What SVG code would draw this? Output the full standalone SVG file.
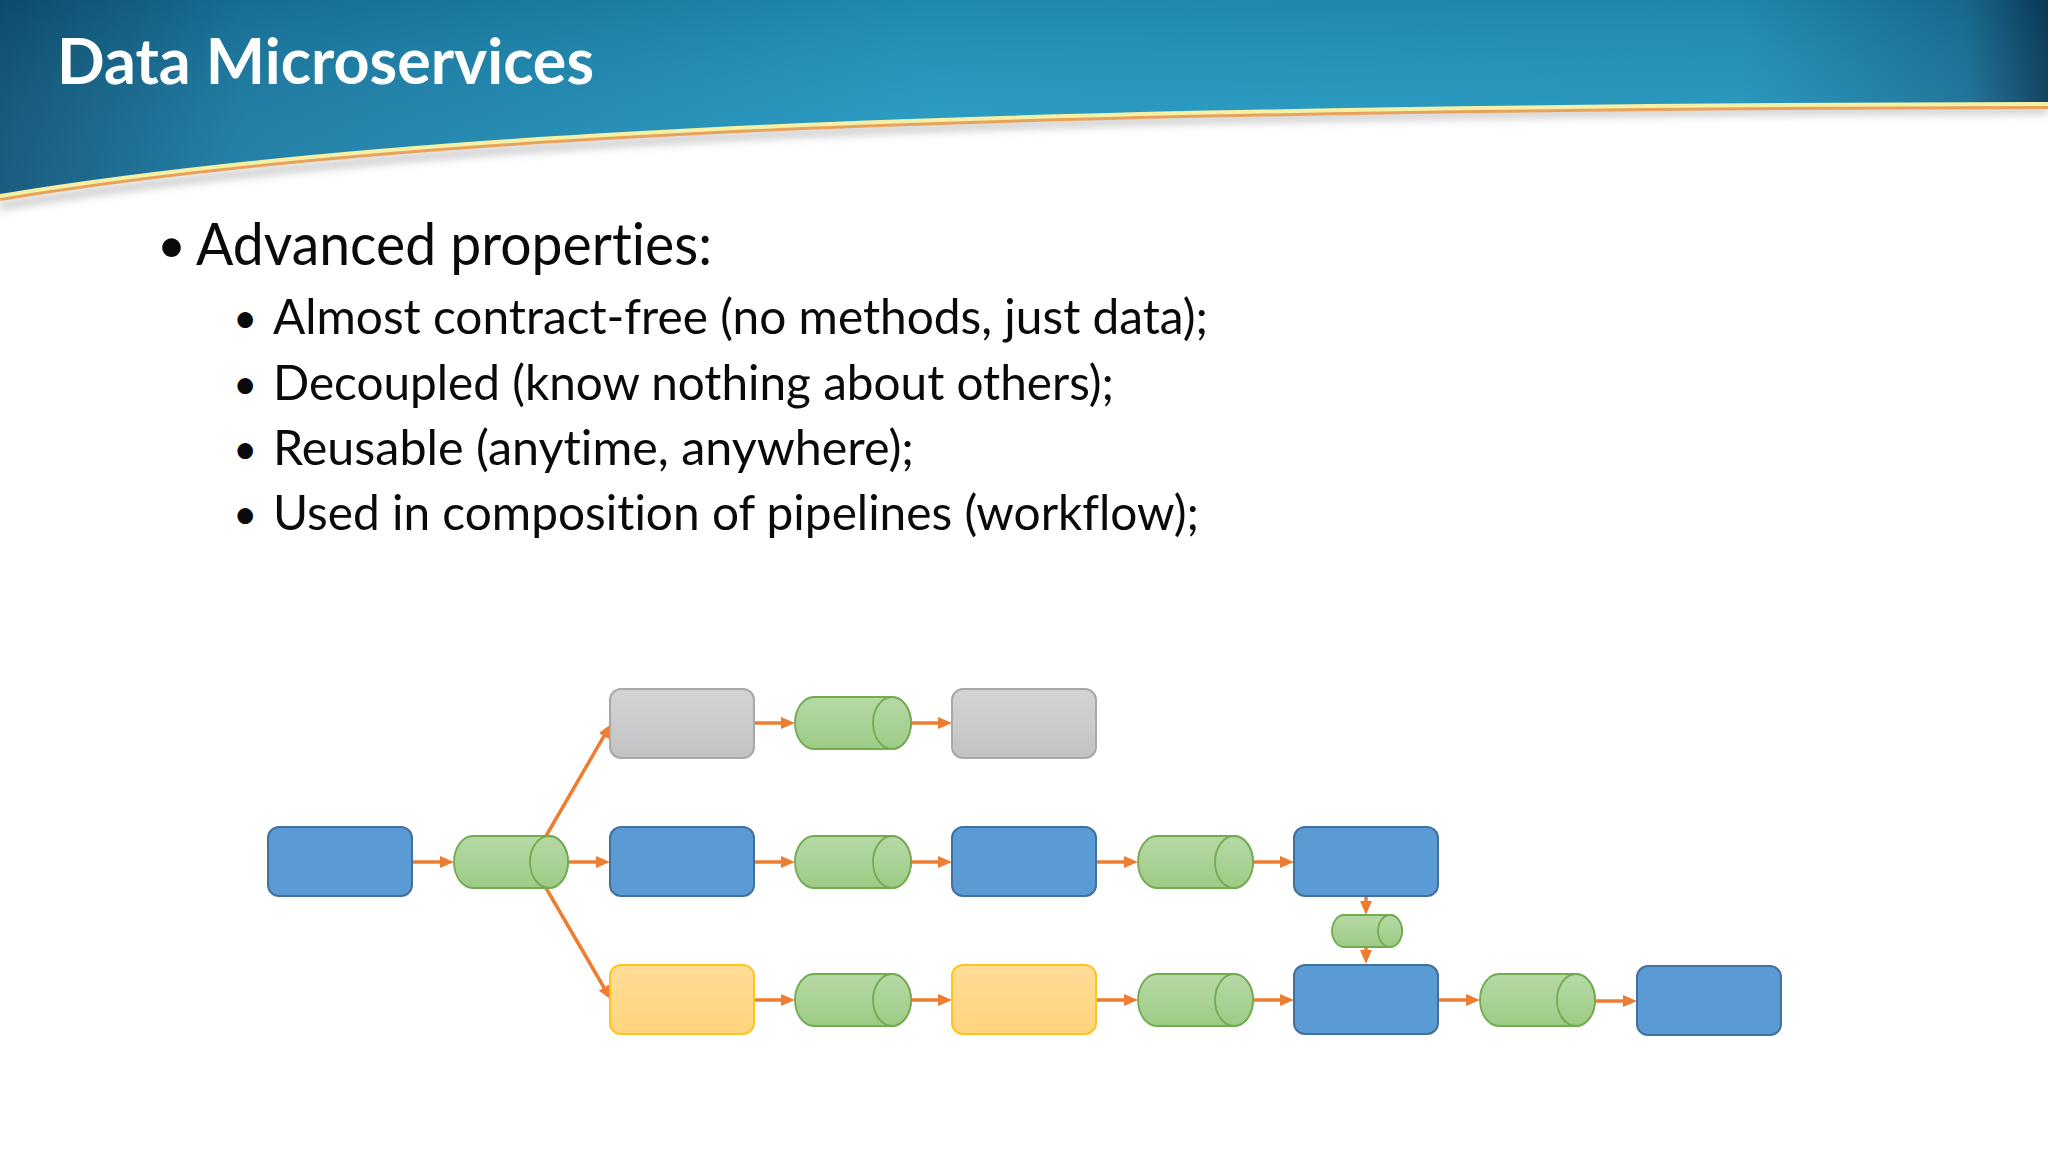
<svg xmlns="http://www.w3.org/2000/svg" width="2048" height="1152" viewBox="0 0 2048 1152">
<defs>
<linearGradient id="hdr" x1="0" y1="0" x2="1" y2="0">
<stop offset="0" stop-color="#0d5479"/>
<stop offset="0.12" stop-color="#1a7ca6"/>
<stop offset="0.45" stop-color="#229cc6"/>
<stop offset="0.85" stop-color="#2299c3"/>
<stop offset="0.96" stop-color="#1a759d"/>
<stop offset="1" stop-color="#0b3f60"/>
</linearGradient>
<linearGradient id="hdrv" x1="0" y1="0" x2="0" y2="1">
<stop offset="0" stop-color="#000" stop-opacity="0.12"/>
<stop offset="1" stop-color="#fff" stop-opacity="0.05"/>
</linearGradient>
<linearGradient id="grn" x1="0" y1="0" x2="0" y2="1">
<stop offset="0" stop-color="#b6d9a5"/>
<stop offset="1" stop-color="#9dcb86"/>
</linearGradient>
<linearGradient id="gry" x1="0" y1="0" x2="0" y2="1">
<stop offset="0" stop-color="#d4d4d6"/>
<stop offset="1" stop-color="#c2c2c4"/>
</linearGradient>
<linearGradient id="ylw" x1="0" y1="0" x2="0" y2="1">
<stop offset="0" stop-color="#ffdd98"/>
<stop offset="1" stop-color="#ffd47c"/>
</linearGradient>
<filter id="blur" x="-5%" y="-50%" width="110%" height="200%">
<feGaussianBlur stdDeviation="4"/>
</filter>
<marker id="ah" viewBox="0 0 14 12" refX="4" refY="6" markerWidth="14" markerHeight="12" markerUnits="userSpaceOnUse" orient="auto">
<path d="M0,0 L14,6 L0,12 Z" fill="#ed7d31"/>
</marker>
</defs>
<style>
.blue{fill:#5b9bd5;stroke:#41719c;stroke-width:2}
.gray{fill:url(#gry);stroke:#a8a8aa;stroke-width:2}
.yel{fill:url(#ylw);stroke:#ffc41f;stroke-width:2}
.cyl{fill:url(#grn);stroke:#72ab50;stroke-width:1.8}
.con{stroke:#ed7d31;stroke-width:3.5;fill:none;marker-end:url(#ah)}
text{font-variant-ligatures:none;font-feature-settings:"liga" 0}
.title{font-family:Lato,"Open Sans","Liberation Sans",sans-serif;font-weight:bold;font-size:64px;fill:#fff}
.b1{font-family:Lato,"Open Sans","Liberation Sans",sans-serif;font-size:58px;fill:#0a0a0a}
.b2{font-family:Lato,"Open Sans","Liberation Sans",sans-serif;font-size:49px;fill:#0a0a0a}
.dot{font-family:Lato,"Open Sans","Liberation Sans",sans-serif;fill:#0a0a0a}
</style>
<rect width="2048" height="1152" fill="#ffffff"/>
<g id="header">
<path d="M0,206 C400,140 1000,112 2048,110" fill="none" stroke="#888" stroke-width="8" stroke-opacity="0.45" filter="url(#blur)"/>
<path d="M0,0 H2048 V104 C1000,106 400,130 0,196 Z" fill="url(#hdr)"/>
<path d="M0,0 H2048 V104 C1000,106 400,130 0,196 Z" fill="url(#hdrv)"/>
<path d="M0,198 C400,132 1000,108 2048,106" fill="none" stroke="#e9a25c" stroke-width="6"/>
<path d="M0,196 C400,130 1000,106 2048,104" fill="none" stroke="#f4f0a6" stroke-width="4"/>
<text class="title" x="57" y="84" textLength="537" lengthAdjust="spacingAndGlyphs">Data Microservices</text>
</g>
<g id="bullets">
<text class="dot" x="157" y="263" font-size="50">•</text>
<text class="b1" x="196" y="265" textLength="516" lengthAdjust="spacingAndGlyphs">Advanced properties:</text>
<text class="dot" x="233" y="333" font-size="42">•</text>
<text class="b2" x="273" y="334" textLength="935" lengthAdjust="spacingAndGlyphs">Almost contract-free (no methods, just data);</text>
<text class="dot" x="233" y="399" font-size="42">•</text>
<text class="b2" x="273" y="400" textLength="841" lengthAdjust="spacingAndGlyphs">Decoupled (know nothing about others);</text>
<text class="dot" x="233" y="464" font-size="42">•</text>
<text class="b2" x="273" y="465" textLength="641" lengthAdjust="spacingAndGlyphs">Reusable (anytime, anywhere);</text>
<text class="dot" x="233" y="529" font-size="42">•</text>
<text class="b2" x="273" y="530" textLength="926" lengthAdjust="spacingAndGlyphs">Used in composition of pipelines (workflow);</text>
</g>
<g id="connectors">
<path class="con" d="M412,862 H444"/>
<path class="con" d="M568,862 H600"/>
<path class="con" d="M546,836 L606,732.6"/>
<path class="con" d="M546,888 L606,991"/>
<path class="con" d="M754,723 H785"/>
<path class="con" d="M911,723 H942"/>
<path class="con" d="M754,862 H785"/>
<path class="con" d="M911,862 H942"/>
<path class="con" d="M1096,862 H1128"/>
<path class="con" d="M1253,862 H1284"/>
<path class="con" d="M1366,896 V905"/>
<path class="con" d="M1366,947 V954"/>
<path class="con" d="M754,1000 H785"/>
<path class="con" d="M911,1000 H942"/>
<path class="con" d="M1096,1000 H1128"/>
<path class="con" d="M1253,1000 H1284"/>
<path class="con" d="M1439,1000 H1470"/>
<path class="con" d="M1595,1001 H1627"/>
</g>
<g id="n-src"><rect class="blue" x="268" y="827" width="144" height="69" rx="11"/></g>
<g id="q-src"><path class="cyl" d="M473,836 H549 A19,26 0 0 1 549,888 H473 A19,26 0 0 1 473,836 Z"/><ellipse class="cyl" cx="549" cy="862" rx="19" ry="26"/></g>
<g id="n-gray1"><rect class="gray" x="610" y="689" width="144" height="69" rx="11"/></g>
<g id="q-top"><path class="cyl" d="M814,697 H892 A19,26 0 0 1 892,749 H814 A19,26 0 0 1 814,697 Z"/><ellipse class="cyl" cx="892" cy="723" rx="19" ry="26"/></g>
<g id="n-gray2"><rect class="gray" x="952" y="689" width="144" height="69" rx="11"/></g>
<g id="n-blue1"><rect class="blue" x="610" y="827" width="144" height="69" rx="11"/></g>
<g id="q-mid1"><path class="cyl" d="M814,836 H892 A19,26 0 0 1 892,888 H814 A19,26 0 0 1 814,836 Z"/><ellipse class="cyl" cx="892" cy="862" rx="19" ry="26"/></g>
<g id="n-blue2"><rect class="blue" x="952" y="827" width="144" height="69" rx="11"/></g>
<g id="q-mid2"><path class="cyl" d="M1157,836 H1234 A19,26 0 0 1 1234,888 H1157 A19,26 0 0 1 1157,836 Z"/><ellipse class="cyl" cx="1234" cy="862" rx="19" ry="26"/></g>
<g id="n-blue3"><rect class="blue" x="1294" y="827" width="144" height="69" rx="11"/></g>
<g id="q-small"><path class="cyl" d="M1344,915 H1390 A12,16 0 0 1 1390,947 H1344 A12,16 0 0 1 1344,915 Z"/><ellipse class="cyl" cx="1390" cy="931" rx="12" ry="16"/></g>
<g id="n-yel1"><rect class="yel" x="610" y="965" width="144" height="69" rx="11"/></g>
<g id="q-bot1"><path class="cyl" d="M814,974 H892 A19,26 0 0 1 892,1026 H814 A19,26 0 0 1 814,974 Z"/><ellipse class="cyl" cx="892" cy="1000" rx="19" ry="26"/></g>
<g id="n-yel2"><rect class="yel" x="952" y="965" width="144" height="69" rx="11"/></g>
<g id="q-bot2"><path class="cyl" d="M1157,974 H1234 A19,26 0 0 1 1234,1026 H1157 A19,26 0 0 1 1157,974 Z"/><ellipse class="cyl" cx="1234" cy="1000" rx="19" ry="26"/></g>
<g id="n-blue4"><rect class="blue" x="1294" y="965" width="144" height="69" rx="11"/></g>
<g id="q-bot3"><path class="cyl" d="M1499,974 H1576 A19,26 0 0 1 1576,1026 H1499 A19,26 0 0 1 1499,974 Z"/><ellipse class="cyl" cx="1576" cy="1000" rx="19" ry="26"/></g>
<g id="n-blue5"><rect class="blue" x="1637" y="966" width="144" height="69" rx="11"/></g>
</svg>
